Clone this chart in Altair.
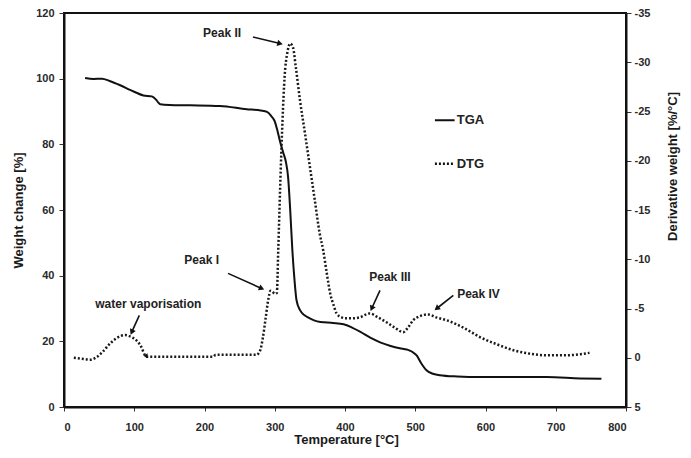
import math
import altair as alt
import pandas as pd

# ---- data ----
tga_T = [30, 42, 54, 65, 80, 95, 113, 125, 131, 134, 137, 150, 180, 222, 260, 280, 289, 295,
         300, 304, 308, 312, 316, 319, 322, 325, 328, 331, 336, 342, 348, 356, 365, 383, 398,
         410, 422, 436, 450, 465, 478, 488, 495, 502, 508, 516, 524, 535, 560, 592, 640, 687,
         735, 765]
tga_W = [100.2, 99.9, 100, 99.3, 98, 96.5, 94.9, 94.6, 93.6, 92.8, 92.2, 92, 91.9, 91.7, 90.7,
         90.3, 89.9, 88.6, 87, 84, 80.5, 77.5, 74.5, 70, 60, 48, 39, 32.5, 29.5, 28, 27.2, 26.4,
         25.9, 25.6, 25.2, 24.2, 22.9, 21.1, 19.7, 18.6, 17.9, 17.5, 16.9, 15.7, 13.5, 11.2,
         10.2, 9.7, 9.3, 9.1, 9.1, 9.1, 8.7, 8.6]

dtg_T = [14, 25, 37, 45, 55, 65, 75, 87, 96, 104, 110, 115, 118, 150, 212, 216, 274, 279, 283,
         287, 291, 294, 297, 300, 303, 305, 308, 311, 314, 318, 322, 326, 330, 336, 343, 350,
         357, 364, 369, 374, 379, 384, 388, 395, 402, 410, 421, 435, 447, 459, 470, 483, 490,
         497, 506, 518, 530, 545, 570, 592, 615, 640, 660, 687, 715, 735, 748]
dtg_D = [0, 0.1, 0.2, 0, -0.6, -1.4, -2.0, -2.3, -2.1, -1.7, -1.1, -0.3, -0.1, -0.1, -0.1, -0.3,
         -0.3, -0.7, -2, -4, -6, -6.8, -6.7, -6.5, -6.6, -11, -18, -24, -28.5, -31, -31.9,
         -31.5, -29.5, -26.1, -22.8, -19.4, -16, -12.6, -10.9, -8.6, -6.5, -5.3, -4.5, -4.1,
         -4.0, -4.0, -4.1, -4.5, -4.1, -3.6, -3.1, -2.6, -3.1, -3.8, -4.2, -4.4, -4.1, -3.8,
         -3.0, -2.1, -1.4, -0.76, -0.45, -0.25, -0.25, -0.35, -0.5]

# annotations (in temperature / weight-change coordinates)
ann_labels = ["Peak II", "Peak I", "water vaporisation", "Peak III", "Peak IV"]
ann_T = [225, 196, 120, 464, 590]
ann_W = [113.8, 44.7, 31.5, 39.6, 34.5]
arrow_T1 = [269, 233.5, 107.2, 449.8, 554.2]
arrow_W1 = [112.7, 40.7, 27.9, 35.5, 34.0]
arrow_T2 = [307.5, 281.4, 96.4, 438, 530.6]
arrow_W2 = [110.7, 36.1, 22.8, 30.0, 30.0]

# small arrow-head on the DTG curve after water vaporisation
head_T = [116]
head_D = [-0.2]

leg_labels = ["TGA", "DTG"]
leg_W = [87.3, 74.1]
leg_T1 = [528, 528]
leg_T2 = [556, 556]
leg_Ttext = [559, 559]
leg_dash = ["solid", "dot"]

x_ticks = [0, 100, 200, 300, 400, 500, 600, 700, 800]
yl_ticks = [0, 20, 40, 60, 80, 100, 120]
yr_ticks = [5, 0, -5, -10, -15, -20, -25, -30, -35]

# ---- geometry ----
W_PX, H_PX = 562, 394
FONT = "Liberation Sans"

tga_df = pd.DataFrame({"T": tga_T, "W": tga_W})
dtg_df = pd.DataFrame({"T": dtg_T, "D": dtg_D})
ann_df = pd.DataFrame({"T": ann_T, "W": ann_W, "label": ann_labels})

angles = []
for a, b, c, d in zip(arrow_T1, arrow_W1, arrow_T2, arrow_W2):
    dx = (c - a) * W_PX / 800
    dy = -(d - b) * H_PX / 120
    angles.append(math.degrees(math.atan2(dx, -dy)) % 360)
arr_df = pd.DataFrame({"T1": arrow_T1, "W1": arrow_W1, "T2": arrow_T2, "W2": arrow_W2,
                       "ang": angles})
leg_df = pd.DataFrame({"label": leg_labels, "W": leg_W, "T1": leg_T1, "T2": leg_T2,
                       "Tt": leg_Ttext, "dash": leg_dash})
head_df = pd.DataFrame({"T": head_T, "D": head_D})

xs = alt.Scale(domain=[0, 800], nice=False, zero=False)
yls = alt.Scale(domain=[0, 120], nice=False, zero=False)
yrs = alt.Scale(domain=[5, -35], nice=False, zero=False)

X_AX = alt.Axis(values=x_ticks, title="Temperature [°C]", grid=False, tickSize=4,
                labelPadding=10, titleX=282, titleY=39, titleBaseline="bottom",
                titleAlign="center", titleAngle=0)
YL_AX = alt.Axis(orient="left", values=yl_ticks, title="Weight change [%]", grid=False,
                 tickSize=5, labelPadding=5, titleX=-46, titleY=197, titleAngle=270,
                 titleAlign="center", titleBaseline="middle")
YR_AX = alt.Axis(orient="right", values=yr_ticks, title="Derivative weight [%/°C]",
                 grid=False, tickSize=5, labelPadding=3, labelExpr="'' + datum.value",
                 titleX=46, titleY=153, titleAngle=270, titleAlign="center",
                 titleBaseline="middle")


def X(f):
    return alt.X(f, scale=xs, axis=X_AX, title="Temperature [°C]")


def YL(f):
    return alt.Y(f, scale=yls, axis=YL_AX, title="Weight change [%]")


def YR(f):
    return alt.Y(f, scale=yrs, axis=YR_AX, title="Derivative weight [%/°C]")


tga = alt.Chart(tga_df).mark_line(color="#111111", strokeWidth=2, interpolate="monotone").encode(
    x=X("T:Q"), y=YL("W:Q"),
)

ann_text = alt.Chart(ann_df).mark_text(font=FONT, fontWeight="bold", fontSize=12, color="#222222",
                                       align="center", baseline="middle").encode(
    x=X("T:Q"), y=YL("W:Q"), text="label:N",
)

arrow_lines = alt.Chart(arr_df).mark_rule(color="#111111", strokeWidth=1.6).encode(
    x=X("T1:Q"), x2="T2:Q", y=YL("W1:Q"), y2="W2:Q",
)

arrow_heads = alt.Chart(arr_df).mark_point(shape="triangle-up", filled=True, size=40,
                                           color="#111111", opacity=1).encode(
    x=X("T2:Q"), y=YL("W2:Q"), angle=alt.Angle("ang:Q", scale=None),
)

leg_lines = alt.Chart(leg_df).mark_rule(color="#111111").encode(
    x=X("T1:Q"), x2="T2:Q", y=YL("W:Q"),
    strokeDash=alt.StrokeDash("dash:N", scale=alt.Scale(domain=["solid", "dot"],
                                                        range=[[1, 0], [2, 2]]), legend=None),
    strokeWidth=alt.StrokeWidth("dash:N", scale=alt.Scale(domain=["solid", "dot"],
                                                          range=[2, 2.5]), legend=None),
)

leg_text = alt.Chart(leg_df).mark_text(font=FONT, fontWeight="bold", fontSize=13, color="#222222",
                                       align="left", baseline="middle").encode(
    x=X("Tt:Q"), y=YL("W:Q"), text="label:N",
)

left = alt.layer(tga, ann_text, arrow_lines, arrow_heads, leg_lines, leg_text)

dtg = alt.Chart(dtg_df).mark_line(color="#1a1a1a", strokeWidth=2.5, strokeDash=[2, 2],
                                  interpolate="monotone").encode(
    x=X("T:Q"), y=YR("D:Q"),
)

dtg_head = alt.Chart(head_df).mark_point(shape="triangle-left", filled=True, size=25,
                                         color="#111111", opacity=1).encode(
    x=X("T:Q"), y=YR("D:Q"),
)

right = alt.layer(dtg, dtg_head)

chart = alt.layer(left, right).resolve_scale(y="independent").properties(
    width=W_PX, height=H_PX,
    autosize=alt.AutoSizeParams(type="none"),
    padding={"left": 56, "top": 5, "right": 57, "bottom": 40},
).configure_view(
    stroke="#111111", strokeWidth=2,
).configure_axis(
    domainColor="#111111", domainWidth=2, tickColor="#333333", tickWidth=1,
    labelFont=FONT, labelFontWeight="bold", labelFontSize=11, labelColor="#2a2a2a",
    titleFont=FONT, titleFontWeight="bold", titleFontSize=13, titleColor="#1a1a1a",
)

chart.save("out.html", embed_options={"renderer": "svg", "actions": False})
